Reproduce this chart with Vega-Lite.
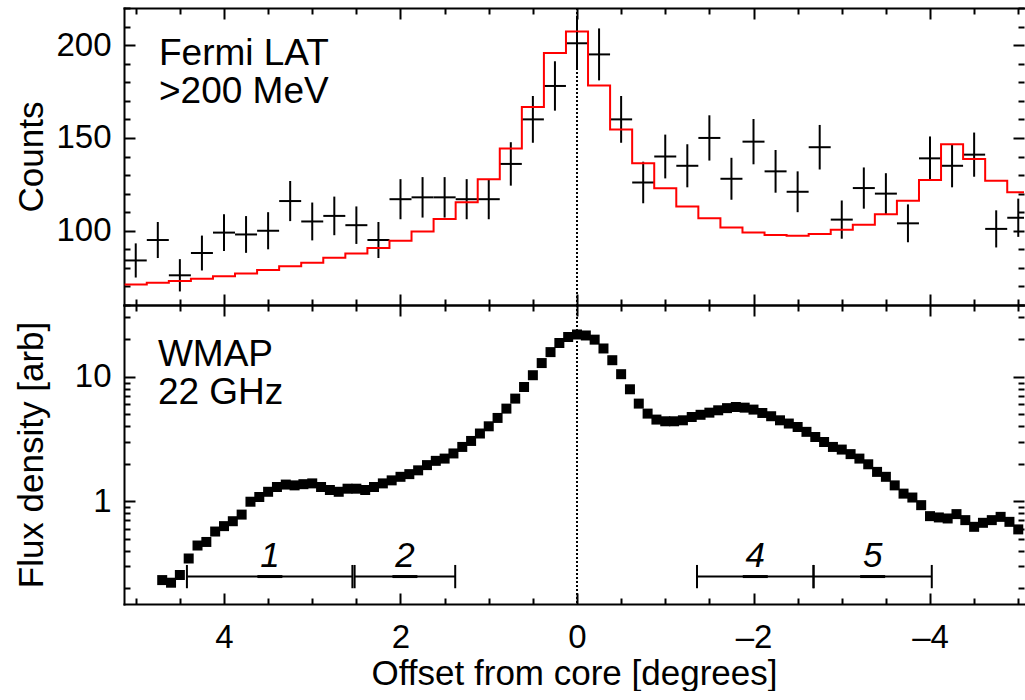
{
  "$schema": "https://vega.github.io/schema/vega-lite/v6.json",
  "padding": {"left": 13, "top": 7, "right": 0, "bottom": 0},
  "autosize": {"type": "pad"},
  "spacing": 0,
  "bounds": "flush",
  "config": {
    "view": {"stroke": null},
    "font": "Liberation Sans",
    "axis": {
      "grid": false, "domainColor": "black", "domainWidth": 2, "domainCap": "square",
      "tickColor": "black", "tickWidth": 2, "labelColor": "black",
      "labelFont": "Liberation Sans", "labelFontSize": 33,
      "titleFont": "Liberation Sans", "titleFontSize": 35, "titleFontWeight": "normal", "titleColor": "black",
      "labelOverlap": false, "labelFlush": false, "labelBound": false
    },
    "text": {"font": "Liberation Sans", "color": "black"}
  },
  "datasets": {
    "fermi": [
      {"x": 5.0, "n": 84, "lo": 74.8, "hi": 93.2},
      {"x": 4.75, "n": 95, "lo": 85.3, "hi": 104.7},
      {"x": 4.5, "n": 76, "lo": 67.3, "hi": 84.7},
      {"x": 4.25, "n": 88, "lo": 78.6, "hi": 97.4},
      {"x": 4.0, "n": 99, "lo": 89.1, "hi": 108.9},
      {"x": 3.75, "n": 98, "lo": 88.1, "hi": 107.9},
      {"x": 3.5, "n": 100, "lo": 90, "hi": 110},
      {"x": 3.25, "n": 116, "lo": 105.2, "hi": 126.8},
      {"x": 3.0, "n": 105, "lo": 94.8, "hi": 115.2},
      {"x": 2.75, "n": 108, "lo": 97.6, "hi": 118.4},
      {"x": 2.5, "n": 103, "lo": 92.9, "hi": 113.1},
      {"x": 2.25, "n": 95, "lo": 85.3, "hi": 104.7},
      {"x": 2.0, "n": 117, "lo": 106.2, "hi": 127.8},
      {"x": 1.75, "n": 118, "lo": 107.1, "hi": 128.9},
      {"x": 1.5, "n": 118, "lo": 107.1, "hi": 128.9},
      {"x": 1.25, "n": 117, "lo": 106.2, "hi": 127.8},
      {"x": 1.0, "n": 117, "lo": 106.2, "hi": 127.8},
      {"x": 0.75, "n": 136, "lo": 124.3, "hi": 147.7},
      {"x": 0.5, "n": 160, "lo": 147.4, "hi": 172.6},
      {"x": 0.25, "n": 178, "lo": 164.7, "hi": 191.3},
      {"x": 0.0, "n": 201, "lo": 186.8, "hi": 215.2},
      {"x": -0.25, "n": 195, "lo": 181, "hi": 209},
      {"x": -0.5, "n": 160, "lo": 147.4, "hi": 172.6},
      {"x": -0.75, "n": 126, "lo": 114.8, "hi": 137.2},
      {"x": -1.0, "n": 140, "lo": 128.2, "hi": 151.8},
      {"x": -1.25, "n": 135, "lo": 123.4, "hi": 146.6},
      {"x": -1.5, "n": 150, "lo": 137.8, "hi": 162.2},
      {"x": -1.75, "n": 128, "lo": 116.7, "hi": 139.3},
      {"x": -2.0, "n": 148, "lo": 135.8, "hi": 160.2},
      {"x": -2.25, "n": 132, "lo": 120.5, "hi": 143.5},
      {"x": -2.5, "n": 121, "lo": 110, "hi": 132},
      {"x": -2.75, "n": 145, "lo": 133, "hi": 157},
      {"x": -3.0, "n": 106, "lo": 95.7, "hi": 116.3},
      {"x": -3.25, "n": 123, "lo": 111.9, "hi": 134.1},
      {"x": -3.5, "n": 120, "lo": 109, "hi": 131},
      {"x": -3.75, "n": 104, "lo": 93.8, "hi": 114.2},
      {"x": -4.0, "n": 139, "lo": 127.2, "hi": 150.8},
      {"x": -4.25, "n": 135, "lo": 123.4, "hi": 146.6},
      {"x": -4.5, "n": 141, "lo": 129.1, "hi": 152.9},
      {"x": -4.75, "n": 101, "lo": 91, "hi": 111},
      {"x": -5.0, "n": 107, "lo": 96.7, "hi": 117.3}
    ],
    "model": [
      {"edge": -5.125, "model": 120.7},
      {"edge": -4.875, "model": 126.9},
      {"edge": -4.625, "model": 138.6},
      {"edge": -4.375, "model": 146.6},
      {"edge": -4.125, "model": 127.3},
      {"edge": -3.875, "model": 116.2},
      {"edge": -3.625, "model": 108.9},
      {"edge": -3.375, "model": 103.2},
      {"edge": -3.125, "model": 100.5},
      {"edge": -2.875, "model": 98.2},
      {"edge": -2.625, "model": 97.3},
      {"edge": -2.375, "model": 97.7},
      {"edge": -2.125, "model": 99.1},
      {"edge": -1.875, "model": 101.8},
      {"edge": -1.625, "model": 106.8},
      {"edge": -1.375, "model": 113.0},
      {"edge": -1.125, "model": 122.9},
      {"edge": -0.875, "model": 136.3},
      {"edge": -0.625, "model": 154.5},
      {"edge": -0.375, "model": 178.2},
      {"edge": -0.125, "model": 207.3},
      {"edge": 0.125, "model": 195.7},
      {"edge": 0.375, "model": 166.6},
      {"edge": 0.625, "model": 144.3},
      {"edge": 0.875, "model": 127.7},
      {"edge": 1.125, "model": 115.4},
      {"edge": 1.375, "model": 106.3},
      {"edge": 1.625, "model": 99.6},
      {"edge": 1.875, "model": 94.6},
      {"edge": 2.125, "model": 90.7},
      {"edge": 2.375, "model": 87.7},
      {"edge": 2.625, "model": 85.4},
      {"edge": 2.875, "model": 82.7},
      {"edge": 3.125, "model": 80.9},
      {"edge": 3.375, "model": 78.8},
      {"edge": 3.625, "model": 77.0},
      {"edge": 3.875, "model": 75.5},
      {"edge": 4.125, "model": 74.1},
      {"edge": 4.375, "model": 72.9},
      {"edge": 4.625, "model": 72.0},
      {"edge": 4.875, "model": 71.1},
      {"edge": 5.125, "model": 71.1}
    ],
    "wmap": [
      {"x": 4.7, "f": 0.232}, {"x": 4.6, "f": 0.221}, {"x": 4.5, "f": 0.255}, {"x": 4.4, "f": 0.346},
      {"x": 4.3, "f": 0.44}, {"x": 4.2, "f": 0.47}, {"x": 4.1, "f": 0.57}, {"x": 4.0, "f": 0.63},
      {"x": 3.9, "f": 0.69}, {"x": 3.8, "f": 0.78}, {"x": 3.7, "f": 0.99}, {"x": 3.6, "f": 1.08},
      {"x": 3.5, "f": 1.19}, {"x": 3.4, "f": 1.30}, {"x": 3.3, "f": 1.36}, {"x": 3.2, "f": 1.34},
      {"x": 3.1, "f": 1.37}, {"x": 3.0, "f": 1.39}, {"x": 2.9, "f": 1.30}, {"x": 2.8, "f": 1.23},
      {"x": 2.7, "f": 1.19}, {"x": 2.6, "f": 1.26}, {"x": 2.5, "f": 1.26}, {"x": 2.4, "f": 1.23},
      {"x": 2.3, "f": 1.30}, {"x": 2.2, "f": 1.39}, {"x": 2.1, "f": 1.47}, {"x": 2.0, "f": 1.57},
      {"x": 1.9, "f": 1.65}, {"x": 1.8, "f": 1.77}, {"x": 1.7, "f": 1.95}, {"x": 1.6, "f": 2.11},
      {"x": 1.5, "f": 2.2}, {"x": 1.4, "f": 2.42}, {"x": 1.3, "f": 2.73}, {"x": 1.2, "f": 3.05},
      {"x": 1.1, "f": 3.5}, {"x": 1.0, "f": 4.0}, {"x": 0.9, "f": 4.67}, {"x": 0.8, "f": 5.55},
      {"x": 0.7, "f": 6.68}, {"x": 0.6, "f": 8.28}, {"x": 0.5, "f": 10.3}, {"x": 0.4, "f": 12.9},
      {"x": 0.3, "f": 15.8}, {"x": 0.2, "f": 18.7}, {"x": 0.1, "f": 20.9}, {"x": 0.0, "f": 21.9},
      {"x": -0.1, "f": 21.5}, {"x": -0.2, "f": 19.9}, {"x": -0.3, "f": 16.9}, {"x": -0.4, "f": 13.6},
      {"x": -0.5, "f": 10.5}, {"x": -0.6, "f": 7.94}, {"x": -0.7, "f": 6.09}, {"x": -0.8, "f": 5.06},
      {"x": -0.9, "f": 4.53}, {"x": -1.0, "f": 4.39}, {"x": -1.1, "f": 4.39}, {"x": -1.2, "f": 4.47},
      {"x": -1.3, "f": 4.75}, {"x": -1.4, "f": 4.95}, {"x": -1.5, "f": 5.15}, {"x": -1.6, "f": 5.38},
      {"x": -1.7, "f": 5.6}, {"x": -1.8, "f": 5.72}, {"x": -1.9, "f": 5.65}, {"x": -2.0, "f": 5.45},
      {"x": -2.1, "f": 5.12}, {"x": -2.2, "f": 4.82}, {"x": -2.3, "f": 4.47}, {"x": -2.4, "f": 4.21},
      {"x": -2.5, "f": 3.95}, {"x": -2.6, "f": 3.61}, {"x": -2.7, "f": 3.28}, {"x": -2.8, "f": 2.99},
      {"x": -2.9, "f": 2.73}, {"x": -3.0, "f": 2.6}, {"x": -3.1, "f": 2.39}, {"x": -3.2, "f": 2.2},
      {"x": -3.3, "f": 1.98}, {"x": -3.4, "f": 1.72}, {"x": -3.5, "f": 1.57}, {"x": -3.6, "f": 1.34},
      {"x": -3.7, "f": 1.15}, {"x": -3.8, "f": 1.07}, {"x": -3.9, "f": 0.929}, {"x": -4.0, "f": 0.758},
      {"x": -4.1, "f": 0.74}, {"x": -4.2, "f": 0.726}, {"x": -4.3, "f": 0.787}, {"x": -4.4, "f": 0.704},
      {"x": -4.5, "f": 0.622}, {"x": -4.6, "f": 0.67}, {"x": -4.7, "f": 0.704}, {"x": -4.8, "f": 0.748},
      {"x": -4.9, "f": 0.682}, {"x": -5.0, "f": 0.593}
    ],
    "segs": [
      {"seg": "1", "start": 4.42, "end": 2.545, "mid": 3.48},
      {"seg": "2", "start": 2.52, "end": 1.38, "mid": 1.95},
      {"seg": "4", "start": -1.36, "end": -2.68, "mid": -2.02},
      {"seg": "5", "start": -2.68, "end": -4.02, "mid": -3.35}
    ]
  },
  "vconcat": [
    {
      "width": 900, "height": 297,
      "resolve": {"axis": {"x": "independent", "y": "independent"}},
      "layer": [
        {
          "data": {"name": "fermi"},
          "mark": {"type": "rule", "color": "black", "strokeWidth": 2, "clip": true},
          "encoding": {
            "x": {"field": "x", "type": "quantitative",
                  "scale": {"domain": [-5.065, 5.133], "reverse": true, "nice": false, "zero": false},
                  "axis": {"orient": "bottom", "values": [-5,-4.5,-4,-3.5,-3,-2.5,-2,-1.5,-1,-0.5,0,0.5,1,1.5,2,2.5,3,3.5,4,4.5,5],
                           "labels": false, "title": null,
                           "tickSize": {"condition": {"test": "datum.value % 2 === 0", "value": -11}, "value": -6}}},
            "y": {"field": "lo", "type": "quantitative",
                  "scale": {"domain": [60, 220], "nice": false, "zero": false},
                  "axis": {"orient": "left", "values": [60,70,80,90,100,110,120,130,140,150,160,170,180,190,200,210,220],
                           "labelExpr": "datum.value % 50 === 0 ? datum.label : ''",
                           "labelFontSize": {"condition": {"test": "datum.value % 50 === 0", "value": 33}, "value": 0},
                           "title": "Counts", "titlePadding": 7, "minExtent": 68, "maxExtent": 68,
                           "labelPadding": 24,
                           "tickSize": {"condition": {"test": "datum.value % 50 === 0", "value": -11}, "value": -6}}},
            "y2": {"field": "hi"}
          }
        },
        {
          "data": {"name": "fermi"},
          "mark": {"type": "tick", "orient": "horizontal", "size": 22, "thickness": 2, "color": "black", "opacity": 1, "clip": true},
          "encoding": {
            "x": {"field": "x", "type": "quantitative",
                  "scale": {"domain": [-5.065, 5.133], "reverse": true, "nice": false, "zero": false},
                  "axis": {"orient": "top", "values": [-5,-4.5,-4,-3.5,-3,-2.5,-2,-1.5,-1,-0.5,0,0.5,1,1.5,2,2.5,3,3.5,4,4.5,5],
                           "labels": false, "title": null,
                           "tickSize": {"condition": {"test": "datum.value % 2 === 0", "value": -11}, "value": -6}}},
            "y": {"field": "n", "type": "quantitative",
                  "scale": {"domain": [60, 220], "nice": false, "zero": false},
                  "axis": {"orient": "right", "values": [60,70,80,90,100,110,120,130,140,150,160,170,180,190,200,210,220],
                           "labels": false, "title": null, "domain": false, "domainOpacity": 0,
                           "tickSize": {"condition": {"test": "datum.value % 50 === 0", "value": -11}, "value": -6}}}
          }
        },
        {
          "data": {"name": "model"},
          "mark": {"type": "line", "interpolate": "step-before", "color": "#ff0000", "strokeWidth": 2, "clip": true},
          "encoding": {
            "x": {"field": "edge", "type": "quantitative", "axis": null,
                  "scale": {"domain": [-5.065, 5.133], "reverse": true, "nice": false, "zero": false}},
            "y": {"field": "model", "type": "quantitative", "axis": null,
                  "scale": {"domain": [60, 220], "nice": false, "zero": false}}
          }
        },
        {
          "data": {"values": [{}]},
          "mark": {"type": "rule", "color": "black", "strokeWidth": 2, "strokeDash": [2, 2]},
          "encoding": {
            "x": {"datum": 0, "type": "quantitative", "axis": null,
                  "scale": {"domain": [-5.065, 5.133], "reverse": true, "nice": false, "zero": false}}
          }
        },
        {
          "data": {"values": [{}]},
          "mark": {"type": "text", "align": "left", "baseline": "alphabetic", "fontSize": 37, "lineHeight": 38.5},
          "encoding": {
            "x": {"datum": 4.737, "type": "quantitative", "axis": null,
                  "scale": {"domain": [-5.065, 5.133], "reverse": true, "nice": false, "zero": false}},
            "y": {"datum": 189.3, "type": "quantitative", "axis": null,
                  "scale": {"domain": [60, 220], "nice": false, "zero": false}},
            "text": {"value": ["Fermi LAT", ">200 MeV"]}
          }
        }
      ]
    },
    {
      "width": 900, "height": 299,
      "resolve": {"axis": {"x": "independent", "y": "independent"}},
      "layer": [
        {
          "data": {"name": "wmap"},
          "mark": {"type": "point", "shape": "square", "filled": true, "size": 100, "color": "black", "opacity": 1, "strokeWidth": 0, "clip": true},
          "encoding": {
            "x": {"field": "x", "type": "quantitative",
                  "scale": {"domain": [-5.065, 5.133], "reverse": true, "nice": false, "zero": false},
                  "axis": {"orient": "bottom", "values": [-5,-4.5,-4,-3.5,-3,-2.5,-2,-1.5,-1,-0.5,0,0.5,1,1.5,2,2.5,3,3.5,4,4.5,5],
                           "labelExpr": "datum.value % 2 === 0 ? (datum.value < 0 ? '–' + (-datum.value) : '' + datum.value) : ''",
                           "labelFontSize": {"condition": {"test": "datum.value % 2 === 0", "value": 33}, "value": 0},
                           "labelPadding": 28, "title": "Offset from core [degrees]", "titlePadding": 2,
                           "tickSize": {"condition": {"test": "datum.value % 2 === 0", "value": -11}, "value": -6}}},
            "y": {"field": "f", "type": "quantitative",
                  "scale": {"type": "log", "domain": [0.149, 37.8], "nice": false},
                  "axis": {"orient": "left", "values": [0.2,0.3,0.4,0.5,0.6,0.7,0.8,0.9,1,2,3,4,5,6,7,8,9,10,20,30],
                           "labelExpr": "datum.value === 1 ? '1' : (datum.value === 10 ? '10' : '')",
                           "labelFontSize": {"condition": {"test": "datum.value === 1 || datum.value === 10", "value": 33}, "value": 0},
                           "title": "Flux density [arb]", "titlePadding": 7, "minExtent": 68, "maxExtent": 68,
                           "labelPadding": 24,
                           "tickSize": {"condition": {"test": "datum.value === 1 || datum.value === 10", "value": -11}, "value": -6}}}
          }
        },
        {
          "data": {"name": "wmap"},
          "mark": {"type": "point", "shape": "square", "filled": true, "size": 1, "opacity": 0, "clip": true},
          "encoding": {
            "x": {"field": "x", "type": "quantitative",
                  "scale": {"domain": [-5.065, 5.133], "reverse": true, "nice": false, "zero": false},
                  "axis": {"orient": "top", "values": [-5,-4.5,-4,-3.5,-3,-2.5,-2,-1.5,-1,-0.5,0,0.5,1,1.5,2,2.5,3,3.5,4,4.5,5],
                           "labels": false, "title": null,
                           "tickSize": {"condition": {"test": "datum.value % 2 === 0", "value": -11}, "value": -6}}},
            "y": {"field": "f", "type": "quantitative",
                  "scale": {"type": "log", "domain": [0.149, 37.8], "nice": false},
                  "axis": {"orient": "right", "values": [0.2,0.3,0.4,0.5,0.6,0.7,0.8,0.9,1,2,3,4,5,6,7,8,9,10,20,30],
                           "labels": false, "title": null, "domain": false, "domainOpacity": 0,
                           "tickSize": {"condition": {"test": "datum.value === 1 || datum.value === 10", "value": -11}, "value": -6}}}
          }
        },
        {
          "data": {"values": [{}]},
          "mark": {"type": "rule", "color": "black", "strokeWidth": 2, "strokeDash": [2, 2]},
          "encoding": {
            "x": {"datum": 0, "type": "quantitative", "axis": null,
                  "scale": {"domain": [-5.065, 5.133], "reverse": true, "nice": false, "zero": false}}
          }
        },
        {
          "data": {"name": "segs"},
          "mark": {"type": "rule", "color": "black", "strokeWidth": 2},
          "encoding": {
            "x": {"field": "start", "type": "quantitative", "axis": null,
                  "scale": {"domain": [-5.065, 5.133], "reverse": true, "nice": false, "zero": false}},
            "x2": {"field": "end"},
            "y": {"datum": 0.2477, "type": "quantitative", "axis": null,
                  "scale": {"type": "log", "domain": [0.149, 37.8], "nice": false}}
          }
        },
        {
          "data": {"name": "segs"},
          "mark": {"type": "rule", "color": "black", "strokeWidth": 2},
          "encoding": {
            "x": {"field": "start", "type": "quantitative", "axis": null,
                  "scale": {"domain": [-5.065, 5.133], "reverse": true, "nice": false, "zero": false}},
            "y": {"datum": 0.1995, "type": "quantitative", "axis": null,
                  "scale": {"type": "log", "domain": [0.149, 37.8], "nice": false}},
            "y2": {"datum": 0.307}
          }
        },
        {
          "data": {"name": "segs"},
          "mark": {"type": "rule", "color": "black", "strokeWidth": 2},
          "encoding": {
            "x": {"field": "end", "type": "quantitative", "axis": null,
                  "scale": {"domain": [-5.065, 5.133], "reverse": true, "nice": false, "zero": false}},
            "y": {"datum": 0.1995, "type": "quantitative", "axis": null,
                  "scale": {"type": "log", "domain": [0.149, 37.8], "nice": false}},
            "y2": {"datum": 0.307}
          }
        },
        {
          "data": {"name": "segs"},
          "mark": {"type": "tick", "orient": "horizontal", "size": 25, "thickness": 3, "color": "black", "opacity": 1},
          "encoding": {
            "x": {"field": "mid", "type": "quantitative", "axis": null,
                  "scale": {"domain": [-5.065, 5.133], "reverse": true, "nice": false, "zero": false}},
            "y": {"datum": 0.2477, "type": "quantitative", "axis": null,
                  "scale": {"type": "log", "domain": [0.149, 37.8], "nice": false}}
          }
        },
        {
          "data": {"name": "segs"},
          "mark": {"type": "text", "align": "center", "baseline": "alphabetic", "fontSize": 35, "fontStyle": "italic"},
          "encoding": {
            "x": {"field": "mid", "type": "quantitative", "axis": null,
                  "scale": {"domain": [-5.065, 5.133], "reverse": true, "nice": false, "zero": false}},
            "y": {"datum": 0.297, "type": "quantitative", "axis": null,
                  "scale": {"type": "log", "domain": [0.149, 37.8], "nice": false}},
            "text": {"field": "seg"}
          }
        },
        {
          "data": {"values": [{}]},
          "mark": {"type": "text", "align": "left", "baseline": "alphabetic", "fontSize": 37, "lineHeight": 37.5},
          "encoding": {
            "x": {"datum": 4.749, "type": "quantitative", "axis": null,
                  "scale": {"domain": [-5.065, 5.133], "reverse": true, "nice": false, "zero": false}},
            "y": {"datum": 12.2, "type": "quantitative", "axis": null,
                  "scale": {"type": "log", "domain": [0.149, 37.8], "nice": false}},
            "text": {"value": ["WMAP", "22 GHz"]}
          }
        }
      ]
    }
  ]
}
